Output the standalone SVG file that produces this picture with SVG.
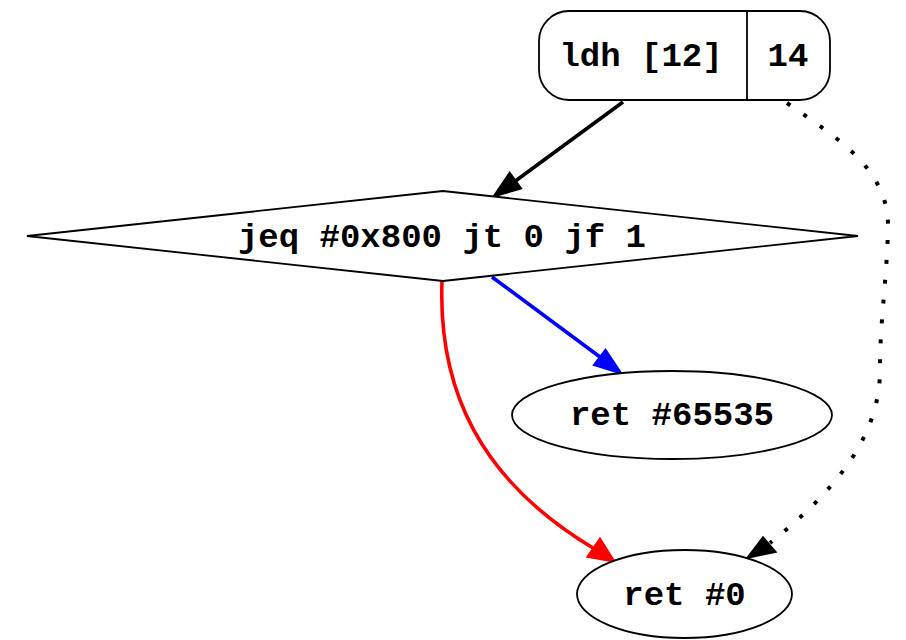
<svg xmlns="http://www.w3.org/2000/svg" width="906" height="640" viewBox="0 0 906 640">
  <style>
    .node { fill: #ffffff; stroke: #000000; stroke-width: 1.8; }
    .label { font-family: "Liberation Mono", "Courier New", monospace; font-weight: bold; font-size: 34px; fill: #000000; text-anchor: middle; }
    .edge { fill: none; stroke-width: 3.6; }
  </style>
  <rect width="906" height="640" fill="#ffffff"/>

  <!-- connectors -->
  <g id="edges">
    <g id="edge-ldh-jeq">
      <path class="edge" stroke="#000000" d="M623,102 L514,182"/>
      <polygon fill="#000000" stroke="#000000" stroke-width="1.5" points="493,197 509.7,172.4 521.5,188.6"/>
    </g>
    <g id="edge-jeq-true">
      <path class="edge" stroke="#0000ff" d="M492,277 L600,357"/>
      <polygon fill="#0000ff" stroke="#0000ff" stroke-width="1.5" points="622,374 593.5,365.2 605.5,349.2"/>
    </g>
    <g id="edge-jeq-false">
      <path class="edge" stroke="#ff0000" d="M442,281 C438,390 480,480 593,548"/>
      <polygon fill="#ff0000" stroke="#ff0000" stroke-width="1.5" points="615,562 587,557 600,538"/>
    </g>
    <g id="edge-ldh-ret0">
      <path fill="none" stroke="#000000" stroke-width="4" stroke-dasharray="4 16" d="M787,103 C840,140 890,170 888,230 C886,290 880,320 880,370 C880,440 830,495 770,543"/>
      <polygon fill="#000000" stroke="#000000" stroke-width="1.5" points="747,558 763,537 776,552"/>
    </g>
  </g>

  <!-- nodes -->
  <g id="node-ldh">
    <rect class="node" x="539" y="11" width="291" height="89" rx="30" ry="30"/>
    <line x1="747" y1="11" x2="747" y2="100" stroke="#000000" stroke-width="1.8"/>
    <text class="label" x="641" y="66">ldh [12]</text>
    <text class="label" x="788" y="66">14</text>
  </g>

  <g id="node-jeq">
    <polygon class="node" points="27,236 443,191 858,236 443,281"/>
    <text class="label" x="442" y="247">jeq #0x800 jt 0 jf 1</text>
  </g>

  <g id="node-ret65535">
    <ellipse class="node" cx="672" cy="415" rx="160" ry="44"/>
    <text class="label" x="672" y="425">ret #65535</text>
  </g>

  <g id="node-ret0">
    <ellipse class="node" cx="684.5" cy="594" rx="107.5" ry="44"/>
    <text class="label" x="684.5" y="605">ret #0</text>
  </g>
</svg>
